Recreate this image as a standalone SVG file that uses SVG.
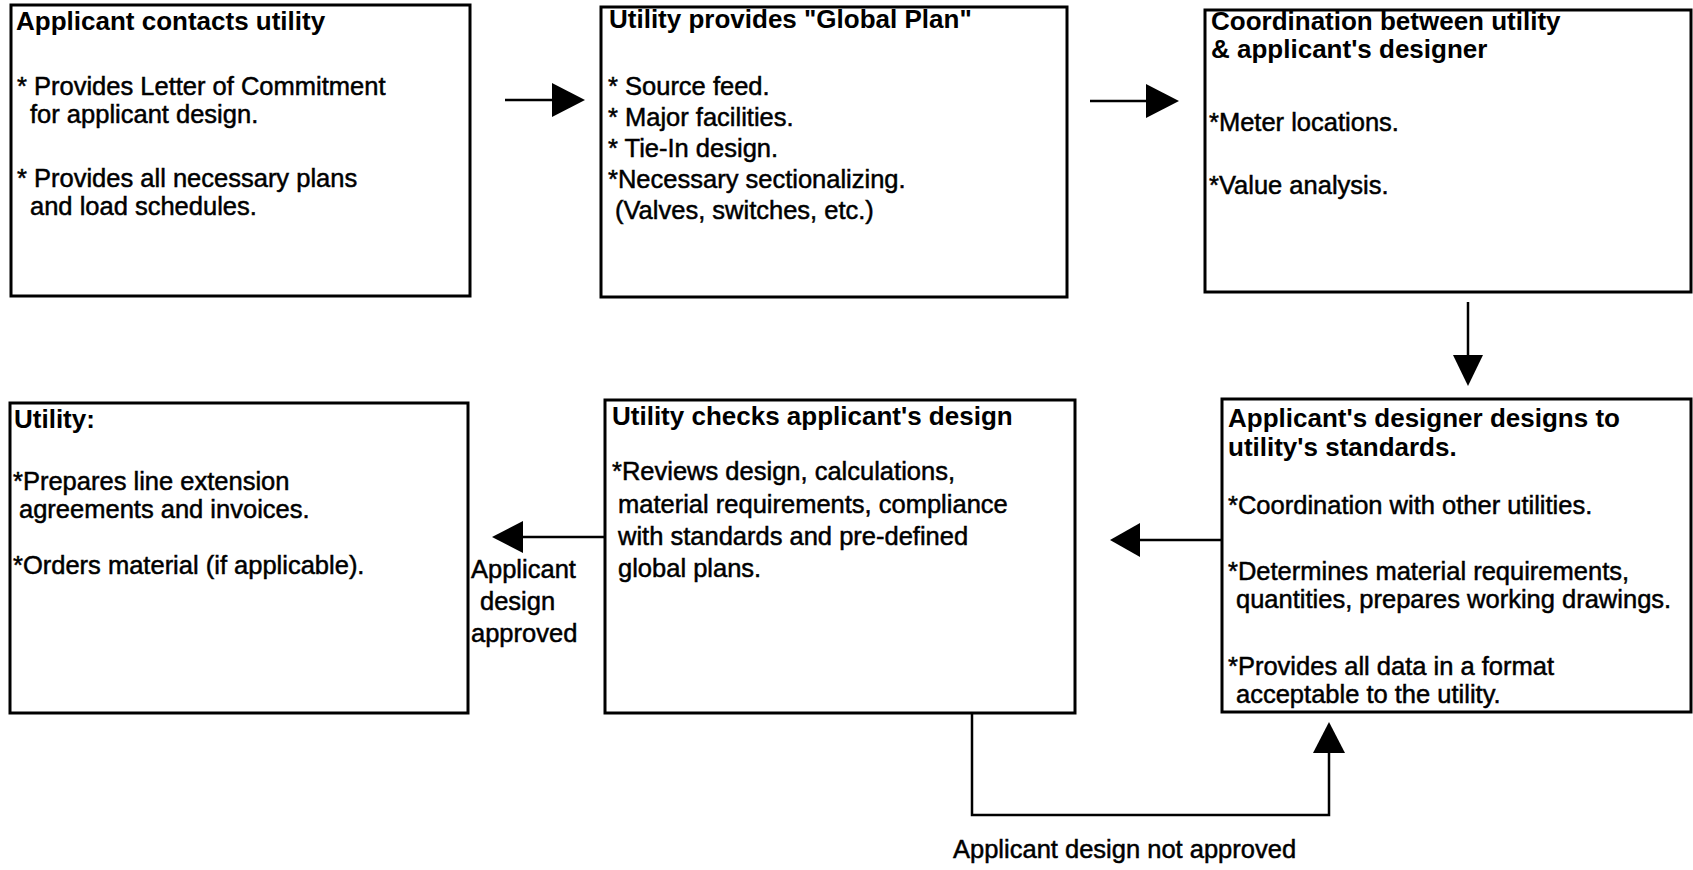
<svg xmlns="http://www.w3.org/2000/svg" width="1693" height="870" viewBox="0 0 1693 870">
<style>
.box{fill:#fff;stroke:#000;stroke-width:3}
.t{font-family:"Liberation Sans",Arial,sans-serif;font-size:26px;font-weight:bold;fill:#000}
.b{font-family:"Liberation Sans",Arial,sans-serif;font-size:25.5px;fill:#000;stroke:#000;stroke-width:0.5}
.c{fill:none;stroke:#000;stroke-width:2.5}
.h{fill:#000;stroke:none}
</style>
<rect width="1693" height="870" fill="#fff"/>
<g id="n1">
<rect class="box" x="11" y="5" width="459" height="291"/>
<text class="t" x="16" y="30">Applicant contacts utility</text>
<text class="b" x="17" y="95">* Provides Letter of Commitment</text>
<text class="b" x="30" y="123">for applicant design.</text>
<text class="b" x="17" y="187">* Provides all necessary plans</text>
<text class="b" x="30" y="215">and load schedules.</text>
</g>
<g id="n2">
<rect class="box" x="601" y="7" width="466" height="290"/>
<text class="t" x="609" y="28">Utility provides "Global Plan"</text>
<text class="b" x="608" y="95">* Source feed.</text>
<text class="b" x="608" y="126">* Major facilities.</text>
<text class="b" x="608" y="157">* Tie-In design.</text>
<text class="b" x="608" y="188">*Necessary sectionalizing.</text>
<text class="b" x="615" y="219">(Valves, switches, etc.)</text>
</g>
<g id="n3">
<rect class="box" x="1205" y="10" width="486" height="282"/>
<text class="t" x="1211" y="30">Coordination between utility</text>
<text class="t" x="1211" y="58">&amp; applicant's designer</text>
<text class="b" x="1209" y="131">*Meter locations.</text>
<text class="b" x="1209" y="194">*Value analysis.</text>
</g>
<g id="n4">
<rect class="box" x="10" y="403" width="458" height="310"/>
<text class="t" x="14" y="428">Utility:</text>
<text class="b" x="13" y="490">*Prepares line extension</text>
<text class="b" x="19" y="518">agreements and invoices.</text>
<text class="b" x="13" y="574">*Orders material (if applicable).</text>
</g>
<g id="n5">
<rect class="box" x="605" y="400" width="470" height="313"/>
<text class="t" x="612" y="425">Utility checks applicant's design</text>
<text class="b" x="612" y="480">*Reviews design, calculations,</text>
<text class="b" x="618" y="513">material requirements, compliance</text>
<text class="b" x="618" y="545">with standards and pre-defined</text>
<text class="b" x="618" y="577">global plans.</text>
</g>
<g id="n6">
<rect class="box" x="1222" y="399" width="469" height="313"/>
<text class="t" x="1228" y="427">Applicant's designer designs to</text>
<text class="t" x="1228" y="456">utility's standards.</text>
<text class="b" x="1228" y="514">*Coordination with other utilities.</text>
<text class="b" x="1228" y="580">*Determines material requirements,</text>
<text class="b" x="1236" y="608">quantities, prepares working drawings.</text>
<text class="b" x="1228" y="675">*Provides all data in a format</text>
<text class="b" x="1236" y="703">acceptable to the utility.</text>
</g>
<g id="connectors">
<line class="c" x1="505" y1="100" x2="554" y2="100"/>
<polygon class="h" points="552,83 585,100 552,117"/>
<line class="c" x1="1090" y1="101" x2="1148" y2="101"/>
<polygon class="h" points="1146,84 1179,101 1146,118"/>
<line class="c" x1="1468" y1="302" x2="1468" y2="357"/>
<polygon class="h" points="1453,355 1483,355 1468,386"/>
<line class="c" x1="1222" y1="540" x2="1138" y2="540"/>
<polygon class="h" points="1140,523 1110,540 1140,557"/>
<line class="c" x1="605" y1="537" x2="521" y2="537"/>
<polygon class="h" points="523,521 492,537 523,553"/>
<polyline class="c" points="972,713 972,815 1329,815 1329,752"/>
<polygon class="h" points="1313,753 1345,753 1329,722"/>
<text class="b" x="471" y="578">Applicant</text>
<text class="b" x="480" y="610">design</text>
<text class="b" x="471" y="642">approved</text>
<text class="b" x="953" y="858">Applicant design not approved</text>
</g>
</svg>
